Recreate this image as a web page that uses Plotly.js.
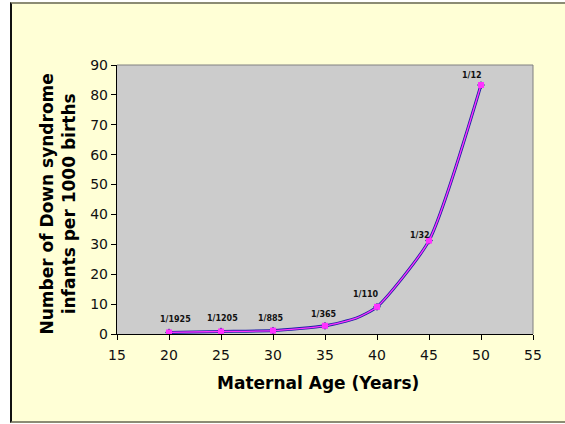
<!DOCTYPE html>
<html>
<head>
<meta charset="utf-8">
<script src="https://cdn.plot.ly/plotly-3.0.1.min.js"></script>
<style>
  html, body { margin: 0; padding: 0; background: #ffffff; width: 565px; height: 424px; overflow: hidden; }
  #frame { position: absolute; left: 10px; top: 2px; width: 600px; height: 417px;
           background: #FFFFD6; border-left: 2px solid #111111; border-top: 2px solid #8c8c74;
           border-bottom: 2px solid #8c8c74; }
  #chart { position: absolute; left: 0; top: 0; width: 565px; height: 424px; }
</style>
</head>
<body>
<div id="frame"></div>
<div id="chart"></div>
<script>
// Data
var ages = [20, 25, 30, 35, 40, 45, 50];
var ratioLabels = ['1/1925', '1/1205', '1/885', '1/365', '1/110', '1/32', '1/12'];
var perThousand = [0.52, 0.83, 1.13, 2.74, 9.09, 31.25, 83.3];
// smoothed curve points (includes the visible bend near age 38)
var curveAges = [20, 25, 30, 35, 38, 40, 45, 50];
var curveValues = [0.52, 0.83, 1.13, 2.74, 5.3, 9.09, 31.25, 83.3];
var xTicks = [15, 20, 25, 30, 35, 40, 45, 50, 55];
var yTicks = [0, 10, 20, 30, 40, 50, 60, 70, 80, 90];

// label offsets (layout only, in pixels)
var labelDx = [6, 1, -2, -1, -11, -9, -9];
var labelDy = [13, 13, 12, 11, 12, 5, 10];

var traces = [
  { x: curveAges, y: curveValues, type: 'scatter', mode: 'lines',
    line: { color: '#2020a8', width: 3, shape: 'spline', smoothing: 0.6 },
    hoverinfo: 'skip', showlegend: false },
  { x: ages, y: perThousand, type: 'scatter', mode: 'markers',
    marker: { symbol: 'diamond', size: 6, color: '#1a1a90' },
    showlegend: false },
  { x: curveAges, y: curveValues, type: 'scatter', mode: 'lines',
    line: { color: '#ff33ff', width: 1.3, shape: 'spline', smoothing: 0.6 },
    hoverinfo: 'skip', showlegend: false },
  { x: ages, y: perThousand, type: 'scatter', mode: 'markers',
    marker: { symbol: 'square', size: 6, color: '#ff33ff' },
    showlegend: false }
];

var annotations = ratioLabels.map(function (t, i) {
  return { x: ages[i], y: perThousand[i], xref: 'x', yref: 'y', text: '<b>' + t + '</b>',
           showarrow: false, xanchor: 'center', yanchor: 'middle',
           xshift: labelDx[i], yshift: labelDy[i],
           font: { family: 'DejaVu Sans', size: 8, color: '#111111' } };
});
annotations.push({
  x: -0.1442, y: 0.4814, xref: 'paper', yref: 'paper', showarrow: false,
  text: '<b>Number of Down syndrome</b><br><b>infants per 1000 births</b>',
  textangle: -90, xanchor: 'center', yanchor: 'middle',
  font: { family: 'DejaVu Sans', size: 17, color: '#000000' }
});
annotations.push({
  x: 0.4832, y: -0.1822, xref: 'paper', yref: 'paper', showarrow: false,
  text: '<b>Maternal Age (Years)</b>', xanchor: 'center', yanchor: 'middle',
  font: { family: 'DejaVu Sans', size: 17, color: '#000000' }
});

var layout = {
  width: 565, height: 424,
  margin: { l: 117, r: 32, t: 65, b: 90, pad: 0 },
  paper_bgcolor: 'rgba(0,0,0,0)',
  plot_bgcolor: '#cccccc',
  showlegend: false,
  xaxis: {
    range: [15, 55], tickvals: xTicks, ticktext: xTicks.map(String),
    ticks: 'outside', ticklen: 5, tickcolor: '#000', tickwidth: 1, ticklabelstandoff: 3,
    showline: true, linecolor: '#000', linewidth: 1.2, showgrid: false, zeroline: false,
    tickfont: { family: 'DejaVu Sans', size: 14, color: '#111' }, fixedrange: true
  },
  yaxis: {
    range: [0, 90], tickvals: yTicks, ticktext: yTicks.map(String),
    ticks: 'outside', ticklen: 5, tickcolor: '#000', tickwidth: 1,
    showline: true, linecolor: '#000', linewidth: 1.2, showgrid: false, zeroline: false,
    tickfont: { family: 'DejaVu Sans', size: 14, color: '#111' }, fixedrange: true
  },
  shapes: [
    { type: 'line', xref: 'paper', yref: 'paper', x0: 0, x1: 1, y0: 1, y1: 1,
      line: { color: '#808080', width: 1 } },
    { type: 'line', xref: 'paper', yref: 'paper', x0: 1, x1: 1, y0: 0, y1: 1,
      line: { color: '#808080', width: 1 } }
  ],
  annotations: annotations
};

Plotly.newPlot('chart', traces, layout, { displayModeBar: false, staticPlot: true });
</script>
</body>
</html>
